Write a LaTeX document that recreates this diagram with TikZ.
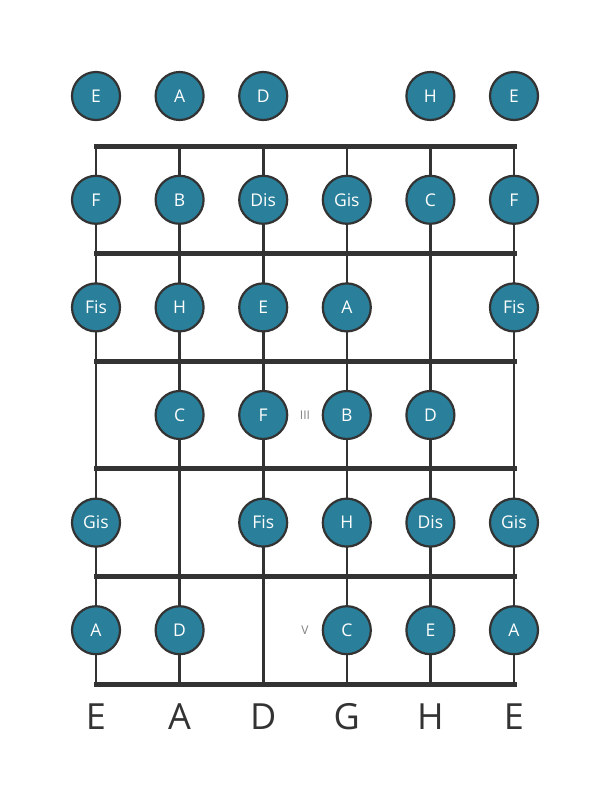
\documentclass[tikz,border=0pt]{standalone}
\usepackage{fontspec}
\setmainfont{Open Sans}
\definecolor{dotfill}{HTML}{2A7F9A}
\definecolor{ink}{HTML}{333333}
\begin{document}
\begin{tikzpicture}[x=1pt,y=-1pt,
  note/.style={circle,draw=ink,line width=2.2pt,fill=dotfill,minimum size=48pt,inner sep=0pt,text=white,font=\fontsize{17.5}{17.5}\selectfont},
  fretline/.style={ink,line width=5pt},
  stringline/.style={ink,line width=2.6pt},
  bottomlab/.style={text=ink,font=\fontsize{36}{36}\selectfont},
  marklab/.style={text=gray,font=\fontsize{12}{12}\selectfont}]
\useasboundingbox[fill=white] (0,0) rectangle (611,801);
\def\sx{{96,179.6,263.2,346.8,430.4,514}}
\def\fy{{146,253.6,361.2,468.8,576.4,684}}
% strings
\foreach \i in {0,...,5}{
  \pgfmathsetmacro\xx{\sx[\i]}
  \coordinate (st\i) at (\xx,146);
  \coordinate (sb\i) at (\xx,684);
  \draw[stringline] (st\i) -- (sb\i);
}
% frets
\foreach \j in {0,...,5}{
  \pgfmathsetmacro\yy{\fy[\j]}
  \coordinate (fl\j) at (96,\yy);
  \coordinate (fr\j) at (514,\yy);
  \draw[fretline,line cap=rect] (fl\j) -- (fr\j);
}
% open strings
\node[note] (o0) at (96,96) {E};
\node[note] (o1) at (179.6,96) {A};
\node[note] (o2) at (263.2,96) {D};
\node[note] (o4) at (430.4,96) {H};
\node[note] (o5) at (514,96) {E};
% fret 1
\node[note] (a0) at (96,199.8) {F};
\node[note] (a1) at (179.6,199.8) {B};
\node[note] (a2) at (263.2,199.8) {Dis};
\node[note] (a3) at (346.8,199.8) {Gis};
\node[note] (a4) at (430.4,199.8) {C};
\node[note] (a5) at (514,199.8) {F};
% fret 2
\node[note] (b0) at (96,307.4) {Fis};
\node[note] (b1) at (179.6,307.4) {H};
\node[note] (b2) at (263.2,307.4) {E};
\node[note] (b3) at (346.8,307.4) {A};
\node[note] (b5) at (514,307.4) {Fis};
% fret 3
\node[note] (c1) at (179.6,415) {C};
\node[note] (c2) at (263.2,415) {F};
\node[note] (c3) at (346.8,415) {B};
\node[note] (c4) at (430.4,415) {D};
\node[marklab] (m3) at (305,415) {III};
% fret 4
\node[note] (d0) at (96,522.6) {Gis};
\node[note] (d2) at (263.2,522.6) {Fis};
\node[note] (d3) at (346.8,522.6) {H};
\node[note] (d4) at (430.4,522.6) {Dis};
\node[note] (d5) at (514,522.6) {Gis};
% fret 5
\node[note] (e0) at (96,630.2) {A};
\node[note] (e1) at (179.6,630.2) {D};
\node[note] (e3) at (346.8,630.2) {C};
\node[note] (e4) at (430.4,630.2) {E};
\node[note] (e5) at (514,630.2) {A};
\node[marklab] (m5) at (305,630.2) {V};
% tuning
\node[bottomlab] (t0) at (96,717) {E};
\node[bottomlab] (t1) at (179.6,717) {A};
\node[bottomlab] (t2) at (263.2,717) {D};
\node[bottomlab] (t3) at (346.8,717) {G};
\node[bottomlab] (t4) at (430.4,717) {H};
\node[bottomlab] (t5) at (514,717) {E};
\end{tikzpicture}
\end{document}
